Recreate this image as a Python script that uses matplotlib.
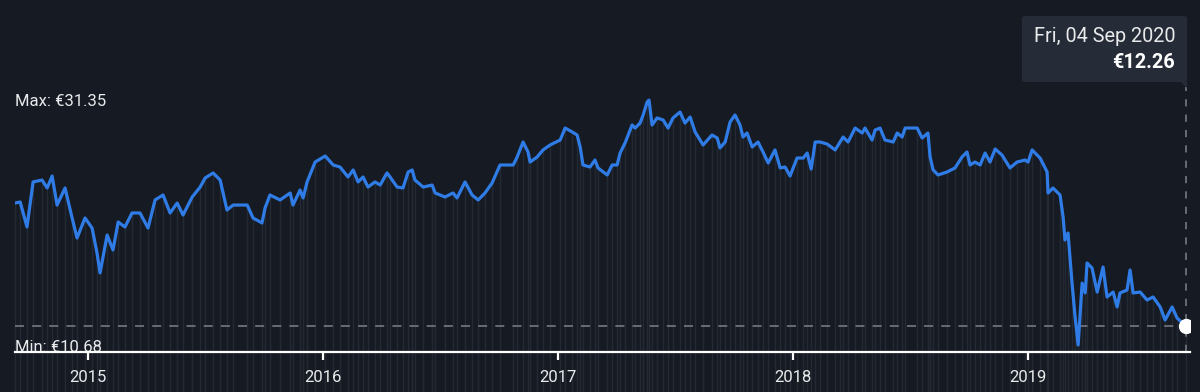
import matplotlib.pyplot as plt
from matplotlib.patches import FancyBboxPatch, Polygon

# share price (time as decimal year, price in EUR)
years = [
    2014.689, 2014.711, 2014.740, 2014.766, 2014.804, 2014.826, 2014.847, 2014.868, 2014.902, 2014.932,
    2014.953, 2014.987, 2015.017, 2015.038, 2015.051, 2015.081, 2015.106, 2015.128, 2015.157, 2015.187,
    2015.221, 2015.255, 2015.285, 2015.319, 2015.349, 2015.379, 2015.404, 2015.443, 2015.477, 2015.498,
    2015.532, 2015.562, 2015.591, 2015.617, 2015.677, 2015.702, 2015.740, 2015.753, 2015.774, 2015.817,
    2015.860, 2015.872, 2015.902, 2015.915, 2015.932, 2015.966, 2016.009, 2016.043, 2016.072, 2016.106,
    2016.128, 2016.149, 2016.170, 2016.191, 2016.221, 2016.243, 2016.272, 2016.285, 2016.315, 2016.340,
    2016.362, 2016.379, 2016.391, 2016.426, 2016.464, 2016.477, 2016.519, 2016.553, 2016.570, 2016.604,
    2016.634, 2016.660, 2016.689, 2016.719, 2016.753, 2016.809, 2016.826, 2016.851, 2016.872, 2016.881,
    2016.911, 2016.936, 2016.966, 2017.009, 2017.030, 2017.060, 2017.081, 2017.094, 2017.106, 2017.136,
    2017.157, 2017.170, 2017.209, 2017.230, 2017.251, 2017.264, 2017.285, 2017.315, 2017.328, 2017.349,
    2017.362, 2017.379, 2017.387, 2017.400, 2017.421, 2017.447, 2017.468, 2017.489, 2017.519, 2017.540,
    2017.562, 2017.583, 2017.617, 2017.655, 2017.677, 2017.689, 2017.711, 2017.732, 2017.753, 2017.774,
    2017.787, 2017.804, 2017.826, 2017.851, 2017.872, 2017.894, 2017.923, 2017.945, 2017.966, 2017.987,
    2018.017, 2018.043, 2018.060, 2018.077, 2018.094, 2018.115, 2018.145, 2018.179, 2018.200, 2018.213,
    2018.234, 2018.264, 2018.294, 2018.306, 2018.336, 2018.349, 2018.370, 2018.391, 2018.426, 2018.443,
    2018.464, 2018.477, 2018.528, 2018.549, 2018.574, 2018.583, 2018.596, 2018.617, 2018.655, 2018.689,
    2018.719, 2018.740, 2018.753, 2018.774, 2018.796, 2018.817, 2018.838, 2018.860, 2018.889, 2018.923,
    2018.953, 2018.987, 2019.000, 2019.017, 2019.051, 2019.081, 2019.085, 2019.106, 2019.136, 2019.149,
    2019.157, 2019.170, 2019.187, 2019.200, 2019.213, 2019.230, 2019.243, 2019.251, 2019.272, 2019.294,
    2019.319, 2019.336, 2019.362, 2019.379, 2019.391, 2019.421, 2019.434, 2019.447, 2019.477, 2019.506,
    2019.532, 2019.562, 2019.583, 2019.613, 2019.634, 2019.672,
]
prices = [
    22.66, 22.75, 20.64, 24.44, 24.60, 23.93, 24.94, 22.49, 23.93, 21.40,
    19.71, 21.40, 20.55, 18.44, 16.76, 19.96, 18.70, 21.06, 20.64, 21.82,
    21.82, 20.55, 22.92, 23.34, 21.82, 22.66, 21.65, 23.17, 24.01, 24.77,
    25.20, 24.60, 22.07, 22.49, 22.49, 21.40, 20.98, 22.24, 23.34, 22.92,
    23.51, 22.49, 23.76, 23.09, 24.44, 26.12, 26.63, 25.87, 25.70, 24.86,
    25.45, 24.44, 24.86, 24.01, 24.44, 24.18, 25.20, 24.86, 24.01, 23.93,
    25.28, 25.45, 24.60, 24.01, 24.18, 23.51, 23.17, 23.51, 23.09, 24.44,
    23.34, 22.92, 23.51, 24.35, 25.87, 25.87, 26.55, 27.81, 26.97, 26.12,
    26.55, 27.14, 27.56, 27.98, 28.99, 28.66, 28.40, 27.39, 25.87, 25.70,
    26.29, 25.62, 25.03, 25.87, 25.87, 26.88, 27.73, 29.25, 28.99, 29.41,
    30.09, 31.19, 31.35, 29.25, 29.84, 29.67, 28.99, 29.84, 30.34, 29.41,
    29.92, 28.66, 27.56, 28.40, 28.15, 27.31, 27.81, 29.50, 30.09, 29.25,
    28.23, 28.57, 27.39, 27.81, 26.97, 26.04, 27.14, 25.62, 25.70, 24.94,
    26.46, 26.46, 26.88, 25.53, 27.81, 27.81, 27.64, 27.14, 27.81, 28.23,
    27.81, 28.99, 28.57, 28.99, 27.98, 28.82, 28.99, 27.98, 27.81, 28.57,
    28.23, 28.99, 28.99, 28.15, 28.57, 26.55, 25.45, 25.03, 25.28, 25.62,
    26.55, 26.97, 25.87, 26.12, 25.87, 26.88, 26.12, 27.22, 26.71, 25.62,
    26.12, 26.29, 26.12, 27.14, 26.46, 25.28, 23.51, 23.93, 23.34, 21.48,
    19.54, 20.13, 15.91, 13.04, 10.68, 15.91, 15.07, 17.60, 17.18, 15.15,
    17.26, 14.73, 15.15, 13.89, 15.07, 15.32, 17.01, 15.07, 15.15, 14.48,
    14.73, 13.89, 12.79, 13.89, 12.96, 12.26,
]

tick_years = [2015, 2016, 2017, 2018, 2019]
tick_labels = ["2015", "2016", "2017", "2018", "2019"]

max_label = "Max: €31.35"
min_label = "Min: €10.68"
tip_date = "Fri, 04 Sep 2020"
tip_price = "€12.26"

BG = "#161a23"
BLUE = "#2f7ce6"
STRIPE = "#232a33"
DASH = "#6e737b"
TEXT = "#e9eaec"
TIP_BG = "#262c37"

plt.rcParams["font.family"] = ["Roboto", "DejaVu Sans"]

fig = plt.figure(figsize=(12, 3.92), dpi=100, facecolor=BG)
ax = fig.add_axes([15 / 1200, 40 / 392, 1175 / 1200, 342 / 392])
ax.set_facecolor(BG)
ax.set_xlim(2014.689, 2019.689)
ax.set_ylim(10.09, 38.95)

# faint stripes below the line, running down past the axis
ax.vlines(years, 6.7, prices, colors=STRIPE, linewidth=1.0, zorder=1, clip_on=False)

ax.plot(years, prices, color=BLUE, linewidth=2.3, zorder=3, solid_joinstyle="round")

last_t, last_p = years[-1], prices[-1]
ax.axhline(last_p, color=DASH, linewidth=1.3, dashes=(5, 4.5), zorder=2)
ax.plot([last_t, last_t], [10.09, 32.45], color=DASH, linewidth=1.3, dashes=(4, 4.5), zorder=2)
ax.plot(last_t, last_p, "o", color="white", markersize=10, zorder=5)

ax.text(2014.689, 30.85, max_label, color=TEXT, fontsize=12, ha="left", va="baseline")
ax.text(2014.689, 10.12, min_label, color=TEXT, fontsize=12, ha="left", va="baseline", zorder=2)

for s in ["top", "right", "left"]:
    ax.spines[s].set_visible(False)
ax.spines["bottom"].set_color("white")
ax.spines["bottom"].set_linewidth(1.6)
ax.spines["bottom"].set_zorder(6)
ax.set_yticks([])
ax.set_xticks(tick_years)
ax.set_xticklabels(tick_labels)
ax.tick_params(axis="x", colors="white", length=6, width=1.6, pad=7, labelsize=12, labelcolor=TEXT)

# tooltip box with its little pointer
box = FancyBboxPatch((1022 / 1200, 1 - 82 / 392), 165 / 1200, 66 / 392,
                     boxstyle="round,pad=0,rounding_size=0.004", transform=fig.transFigure,
                     facecolor=TIP_BG, edgecolor="none", zorder=10)
fig.patches.append(box)
tri = Polygon([(1181 / 1200, 1 - 82 / 392), (1187 / 1200, 1 - 82 / 392), (1187 / 1200, 1 - 88 / 392)],
              closed=True, transform=fig.transFigure, facecolor=TIP_BG, edgecolor="none", zorder=10)
fig.patches.append(tri)
fig.text(1175 / 1200, 1 - 42 / 392, tip_date, color=TEXT, fontsize=14.3, ha="right", va="baseline", zorder=11)
fig.text(1175 / 1200, 1 - 68 / 392, tip_price, color="white", fontsize=14.3, fontweight="bold",
         ha="right", va="baseline", zorder=11)

fig.savefig("out.png", dpi=100, facecolor=BG)
